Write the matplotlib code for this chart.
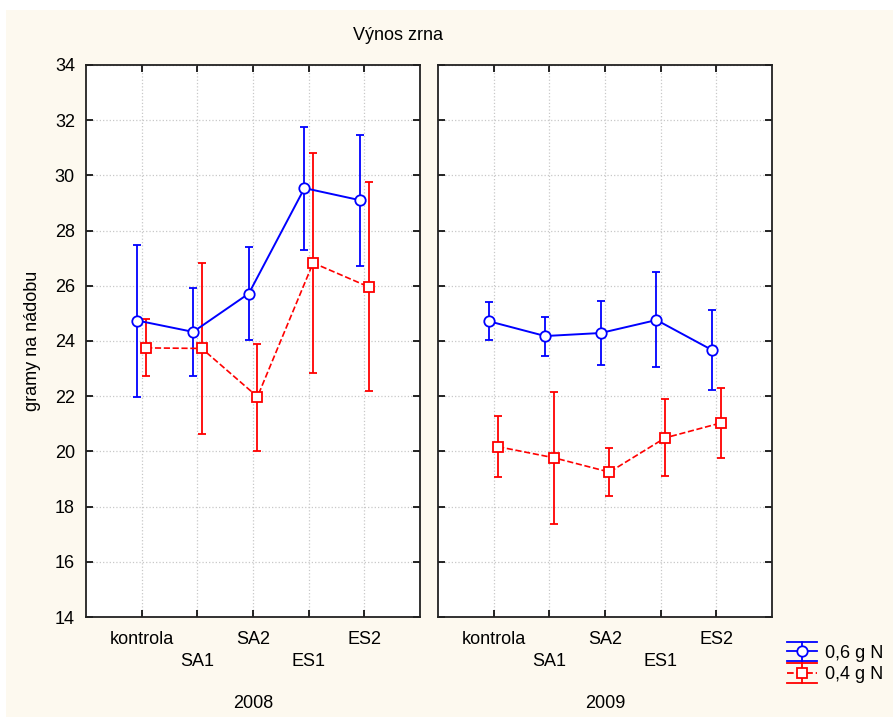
import matplotlib
matplotlib.use("Agg")
import matplotlib.pyplot as plt
from matplotlib.legend_handler import HandlerBase
from matplotlib.lines import Line2D
from matplotlib.patches import Rectangle
import numpy as np

plt.rcParams["font.family"] = ["Liberation Sans", "DejaVu Sans"]

categories = ["kontrola", "SA1", "SA2", "ES1", "ES2"]
years = ["2008", "2009"]
series_labels = ["0,6 g N", "0,4 g N"]

# 2008
mean_06_2008 = [24.74, 24.33, 25.72, 29.54, 29.10]
low_06_2008 = [21.96, 22.72, 24.02, 27.28, 26.73]
high_06_2008 = [27.48, 25.93, 27.41, 31.77, 31.46]
mean_04_2008 = [23.75, 23.73, 21.98, 26.83, 25.96]
low_04_2008 = [22.72, 20.63, 20.00, 22.84, 22.18]
high_04_2008 = [24.78, 26.83, 23.90, 30.80, 29.75]

# 2009
mean_06_2009 = [24.71, 24.18, 24.29, 24.76, 23.67]
low_06_2009 = [24.02, 23.47, 23.13, 23.05, 22.22]
high_06_2009 = [25.41, 24.88, 25.46, 26.49, 25.14]
mean_04_2009 = [20.17, 19.77, 19.25, 20.49, 21.03]
low_04_2009 = [19.08, 17.38, 18.40, 19.10, 19.75]
high_04_2009 = [21.27, 22.15, 20.12, 21.90, 22.31]

yticks = list(range(14, 35, 2))

panels = [
    (mean_06_2008, low_06_2008, high_06_2008, mean_04_2008, low_04_2008, high_04_2008),
    (mean_06_2009, low_06_2009, high_06_2009, mean_04_2009, low_04_2009, high_04_2009),
]

FS = 13


class CapHandler(HandlerBase):
    """Legend key drawn like the error-bar keys: caps across the whole key."""

    def create_artists(self, legend, orig, xd, yd, w, h, fontsize, trans):
        c = orig.get_color()
        cy = h / 2 - yd
        x0, x1 = -xd, -xd + w
        xm = (x0 + x1) / 2
        d = 7.0
        arts = [
            Line2D([x0, x1], [cy + d, cy + d], color=c, lw=1.3),
            Line2D([x0, x1], [cy - d, cy - d], color=c, lw=1.3),
            Line2D([xm, xm], [cy - d, cy + d], color=c, lw=1.3),
            Line2D([x0, x1], [cy, cy], color=c, lw=1.3, ls=orig.get_linestyle()),
            Line2D([xm], [cy], marker=orig.get_marker(), ms=orig.get_markersize(),
                   mfc="white", mec=c, mew=1.3, ls="none"),
        ]
        for a in arts:
            a.set_transform(trans)
        return arts


W, H = 893, 717
fig = plt.figure(figsize=(W / 100, H / 100), dpi=100, facecolor="white")
fig.patches.append(Rectangle((6 / W, 0), 1, 1 - 10 / H, transform=fig.transFigure,
                             facecolor="#fdf9ef", edgecolor="none", zorder=-10))

ax_left = [86 / W, 438 / W]
ax_w = 334 / W
ax_b = 1 - 617 / H
ax_h = 552 / H

x = np.arange(1, len(categories) + 1)
for i, (m6, l6, h6, m4, l4, h4) in enumerate(panels):
    ax = fig.add_axes([ax_left[i], ax_b, ax_w, ax_h])
    ax.set_facecolor("white")
    m6, l6, h6 = map(np.array, (m6, l6, h6))
    m4, l4, h4 = map(np.array, (m4, l4, h4))
    ax.errorbar(x - 0.075, m6, yerr=[m6 - l6, h6 - m6], color="#0000ff", lw=1.4,
                marker="o", ms=7.5, mfc="white", mec="#0000ff", mew=1.3,
                capsize=3, elinewidth=1.3, capthick=1.3, zorder=3)
    e4 = ax.errorbar(x + 0.08, m4, yerr=[m4 - l4, h4 - m4], color="#ff0000", lw=1.2,
                     ls="--", marker="s", ms=7, mfc="white", mec="#ff0000", mew=1.3,
                     capsize=3, elinewidth=1.3, capthick=1.3, zorder=3)
    e4[-1][0].set_linestyle("-")
    ax.set_xlim(0, 6)
    ax.set_ylim(14, 34)
    ax.set_yticks(yticks)
    ax.set_xticks(x)
    ax.grid(True, color="#c8c8c8", ls=":", lw=0.9)
    ax.set_axisbelow(True)
    ax.tick_params(direction="in", length=5, width=1.2, top=True, right=True,
                   labelbottom=False, labelsize=FS, pad=8)
    if i == 1:
        ax.tick_params(labelleft=False)
    for s in ax.spines.values():
        s.set_linewidth(1.3)
        s.set_color("#222222")
    # staggered category labels
    for j, c in enumerate(categories):
        yoff = -0.040 if j % 2 == 0 else -0.081
        ax.text(x[j], yoff, c, transform=ax.get_xaxis_transform(), ha="center",
                va="center", fontsize=FS)
    ax.text(3, -0.157, years[i], transform=ax.get_xaxis_transform(), ha="center",
            va="center", fontsize=FS)
    if i == 0:
        ax.set_ylabel("gramy na nádobu", fontsize=FS, labelpad=10)

fig.text(398 / W, 1 - 35 / H, "Výnos zrna", ha="center", va="center", fontsize=FS)

proxies = [
    Line2D([], [], color="#0000ff", ls="-", marker="o", ms=7.5),
    Line2D([], [], color="#ff0000", ls="--", marker="s", ms=7),
]
fig.legend(proxies, series_labels, loc="center left",
           bbox_to_anchor=(771 / W, 1 - 664 / H), frameon=False, fontsize=FS,
           handlelength=1.65, handletextpad=0.45, labelspacing=0.25,
           handler_map={Line2D: CapHandler()})

fig.savefig("out.png", dpi=100, facecolor=fig.get_facecolor())
